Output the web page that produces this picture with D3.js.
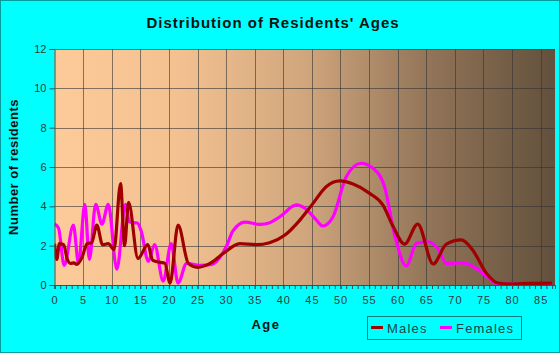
<!DOCTYPE html>
<html>
<head>
<meta charset="utf-8">
<script src="https://cdn.jsdelivr.net/npm/d3@7/dist/d3.min.js"></script>
<style>
  html, body { margin: 0; padding: 0; background: #00ffff; }
  svg { display: block; font-family: Arial, "Liberation Sans", sans-serif; }
</style>
</head>
<body>
<div id="chart"></div>
<script>
// values
const maleAges = [0, 0.4, 0.85, 1.6, 2.2, 2.8, 3.4, 3.9, 4.8, 5.7, 6.5, 7.4, 8.4, 9.4, 10.4, 11.55, 12.25, 12.95, 14.6, 16.3, 17.2, 18.5, 19.3, 20.2, 21.6, 23.4, 25, 27.2, 29.5, 32.4, 35.3, 37.6, 40.3, 42.9, 45.2, 47.5, 49.9, 52.2, 55.1, 57.4, 59.2, 61.2, 63.5, 66.2, 68.5, 71.1, 73.1, 75.5, 77.5, 80, 83, 87]
const maleValues = [2.1, 1.3, 2.1, 2.05, 1.35, 1.1, 1.12, 1.05, 1.4, 2.1, 2.15, 3.05, 2.05, 2.1, 1.8, 5.15, 2.0, 4.2, 1.35, 2.05, 1.25, 1.15, 1.1, 0.1, 3.05, 1.1, 0.9, 1.1, 1.6, 2.1, 2.05, 2.15, 2.54, 3.3, 4.15, 5.0, 5.29, 5.13, 4.66, 4.07, 2.97, 2.08, 3.1, 1.07, 2.08, 2.29, 1.78, 0.6, 0.1, 0.05, 0.08, 0.1]

const femaleAges = [0, 0.7, 1.7, 3.3, 4.2, 5.3, 6.1, 7.2, 8.3, 9.4, 10.9, 12.4, 13.1, 14.5, 15.2, 16.4, 17.5, 19, 20.4, 21.6, 23.1, 25.4, 27.5, 30.1, 31.2, 33.3, 36, 37.5, 39.4, 42.3, 44, 45.8, 46.9, 48.7, 51, 53.6, 55.7, 57.7, 59.5, 61.5, 63.3, 65.3, 67, 68.5, 71.4, 73.7, 76, 77.5, 80, 83, 87]
const femaleValues = [3.1, 2.9, 1.0, 3.05, 1.1, 4.1, 1.3, 4.1, 3.1, 4.1, 0.8, 4.1, 3.2, 3.15, 2.7, 1.2, 2.05, 0.2, 2.1, 0.1, 1.1, 1.0, 1.05, 2.0, 2.75, 3.2, 3.08, 3.15, 3.47, 4.07, 3.85, 3.3, 3.0, 3.47, 5.5, 6.19, 5.93, 5.0, 2.5, 0.97, 2.12, 2.2, 1.85, 1.1, 1.13, 0.85, 0.34, 0.05, 0.05, 0.05, 0.05]

const xTicks = d3.range(0, 90, 5)
const yTicks = [0, 2, 4, 6, 8, 10, 12]
const seriesNames = ["Males", "Females"]

const W = 560, H = 353
const margin = { left: 54.5, right: 5, top: 49, bottom: 68 }

const svg = d3.select("#chart").append("svg")
  .attr("width", W)
  .attr("height", H)

// outer frame
svg.append("rect")
  .attr("x", 0.5).attr("y", 0.5)
  .attr("width", W - 1).attr("height", H - 1)
  .attr("fill", "#00ffff")
  .attr("stroke", "#079b9b")

const x = d3.scaleLinear().domain([0, 87.5]).range([margin.left, W - margin.right])
const y = d3.scaleLinear().domain([0, 12]).range([H - margin.bottom, margin.top])

// plot background gradient
const grad = svg.append("defs").append("linearGradient")
  .attr("id", "bg").attr("x1", 0).attr("x2", 1).attr("y1", 0).attr("y2", 0)
grad.selectAll("stop")
  .data([[0, "#fdcb99"], [0.25, "#f3c190"], [0.5, "#d0a67d"], [0.75, "#927458"], [1, "#62503c"]])
  .join("stop")
  .attr("offset", d => d[0])
  .attr("stop-color", d => d[1])

svg.append("rect")
  .attr("x", x(0)).attr("y", y(12))
  .attr("width", x(87.5) - x(0)).attr("height", y(0) - y(12))
  .attr("fill", "url(#bg)")

// grid
const grid = svg.append("g").attr("stroke", "#333").attr("stroke-opacity", 0.6).attr("stroke-width", 1)
grid.selectAll("line.v")
  .data(xTicks.filter(d => d > 0))
  .join("line")
  .attr("x1", d => Math.round(x(d)) + 0.5).attr("x2", d => Math.round(x(d)) + 0.5)
  .attr("y1", y(12)).attr("y2", y(0))
grid.selectAll("line.h")
  .data(yTicks.filter(d => d > 0))
  .join("line")
  .attr("x1", x(0)).attr("x2", x(87.5))
  .attr("y1", d => Math.round(y(d)) + 0.5).attr("y2", d => Math.round(y(d)) + 0.5)

// data lines
const line = d3.line()
  .x(d => x(d[0]))
  .y(d => y(d[1]))
  .curve(d3.curveMonotoneX)

svg.append("clipPath").attr("id", "clip").append("rect")
  .attr("x", x(0)).attr("y", y(12) - 3)
  .attr("width", x(87.5) - x(0)).attr("height", y(0) - y(12) + 3)

const plot = svg.append("g").attr("clip-path", "url(#clip)")
plot.append("path")
  .attr("d", line(d3.zip(femaleAges, femaleValues)))
  .attr("fill", "none")
  .attr("stroke", "#ff00ff")
  .attr("stroke-width", 3.2)
plot.append("path")
  .attr("d", line(d3.zip(maleAges, maleValues)))
  .attr("fill", "none")
  .attr("stroke", "#a00000")
  .attr("stroke-width", 3.2)

// axes
const axisColor = "#1d5c5c"
const yAxis = svg.append("g")
  .attr("transform", `translate(${x(0)},0)`)
  .call(d3.axisLeft(y).tickValues(yTicks).tickSize(5).tickPadding(3))
yAxis.select(".domain").attr("stroke", axisColor)
yAxis.selectAll(".tick line").attr("stroke", axisColor)
yAxis.selectAll(".tick text").attr("fill", "#2b3a3a").attr("font-size", 11).attr("font-family", "Arial, sans-serif")

const xMinor = svg.append("g")
  .attr("transform", `translate(0,${y(0)})`)
  .call(d3.axisBottom(x).tickValues(d3.range(0, 88, 1)).tickSize(4).tickFormat(""))
xMinor.select(".domain").attr("stroke", axisColor)
xMinor.selectAll(".tick line").attr("stroke", axisColor)

const xAxis = svg.append("g")
  .attr("transform", `translate(0,${y(0)})`)
  .call(d3.axisBottom(x).tickValues(xTicks).tickSize(4).tickPadding(7))
xAxis.select(".domain").remove()
xAxis.selectAll(".tick line").attr("stroke", axisColor)
xAxis.selectAll(".tick text")
  .attr("fill", "#2b3a3a").attr("font-size", 11)
  .attr("font-family", "Arial, sans-serif")
  .attr("letter-spacing", 1)

// titles
svg.append("text")
  .attr("x", 273).attr("y", 28)
  .attr("text-anchor", "middle")
  .attr("font-size", 15).attr("font-weight", "bold")
  .attr("letter-spacing", 1)
  .attr("fill", "#111")
  .text("Distribution of Residents' Ages")

svg.append("text")
  .attr("x", 266).attr("y", 329)
  .attr("text-anchor", "middle")
  .attr("font-size", 13).attr("font-weight", "bold")
  .attr("letter-spacing", 1.5)
  .attr("fill", "#111")
  .text("Age")

svg.append("text")
  .attr("transform", "translate(18,167) rotate(-90)")
  .attr("text-anchor", "middle")
  .attr("font-size", 13).attr("font-weight", "bold")
  .attr("letter-spacing", 0.5)
  .attr("fill", "#111")
  .text("Number of residents")

// legend
const legend = svg.append("g").attr("transform", "translate(367,316)")
legend.append("rect")
  .attr("x", 0.5).attr("y", 0.5)
  .attr("width", 154).attr("height", 23)
  .attr("fill", "none")
  .attr("stroke", "#0b7d7d")
const legendColors = ["#a00000", "#ff00ff"]
const legendX = [4, 73]
seriesNames.forEach((name, i) => {
  legend.append("line")
    .attr("x1", legendX[i]).attr("x2", legendX[i] + 12)
    .attr("y1", 11.5).attr("y2", 11.5)
    .attr("stroke", legendColors[i]).attr("stroke-width", 3)
  legend.append("text")
    .attr("x", legendX[i] + 16).attr("y", 16.5)
    .attr("font-size", 13)
    .attr("letter-spacing", 1.2)
    .attr("fill", "#1a4444")
    .text(name)
})
</script>
</body>
</html>
